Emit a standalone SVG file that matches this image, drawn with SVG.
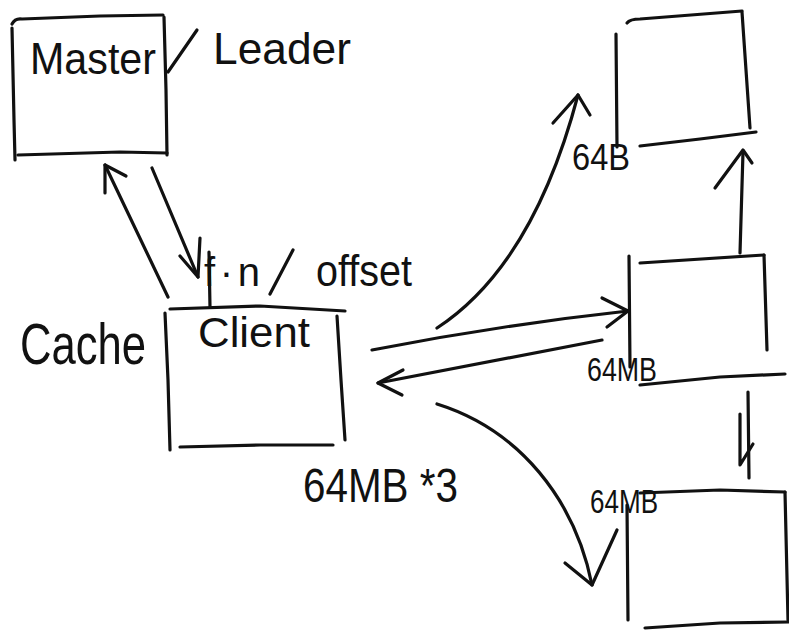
<svg xmlns="http://www.w3.org/2000/svg" width="789" height="630" viewBox="0 0 789 630">
<style>
.s{fill:none;stroke:#111;stroke-width:3.2;stroke-linecap:round;stroke-linejoin:round}
.t{font-family:"Liberation Sans",Arial,sans-serif;fill:#111}
</style>
<rect width="789" height="630" fill="#fff"/>
<g id="master">
<path class="s" d="M12,24 Q15,18 22,19 L100,16 L163,15"/>
<path class="s" d="M12,28 L14,120 L15,160"/>
<path class="s" d="M18,155 L120,152 L167,153"/>
<path class="s" d="M164,17 L166,90 L167,155"/>
<text class="t" x="30" y="74" font-size="44" textLength="126" lengthAdjust="spacingAndGlyphs">Master</text>
<path class="s" d="M168,72 L197,30"/>
<text class="t" x="213" y="64" font-size="44" textLength="138" lengthAdjust="spacingAndGlyphs">Leader</text>
</g>
<g id="client">
<path class="s" d="M170,309 L260,306 L345,311"/>
<path class="s" d="M165,313 L168,380 L170,450"/>
<path class="s" d="M337,316 L341,380 L345,440"/>
<path class="s" d="M180,447 L260,445 L333,445"/>
<text class="t" x="198" y="347" font-size="42" textLength="112" lengthAdjust="spacingAndGlyphs">Client</text>
<text class="t" x="20" y="364" font-size="58" textLength="126" lengthAdjust="spacingAndGlyphs">Cache</text>
<text class="t" x="303" y="502" font-size="48" textLength="155" lengthAdjust="spacingAndGlyphs">64MB *3</text>
</g>
<g id="chunk1">
<path class="s" d="M616,34 L617,147"/>
<path class="s" d="M627,23 Q630,19 640,19 L742,11"/>
<path class="s" d="M742,12 L746,70 L750,128"/>
<path class="s" d="M640,146 L700,139 L756,132"/>
</g>
<g id="chunk2">
<path class="s" d="M629,256 L630,367"/>
<path class="s" d="M640,263 L764,255"/>
<path class="s" d="M764,255 L767,350"/>
<path class="s" d="M640,385 L720,377 L785,374"/>
<text class="t" x="587" y="381" font-size="34" textLength="70" lengthAdjust="spacingAndGlyphs">64MB</text>
</g>
<g id="chunk3">
<path class="s" d="M627,505 L628,620"/>
<path class="s" d="M640,493 L720,490 L785,492"/>
<path class="s" d="M785,492 L788,620"/>
<path class="s" d="M645,628 L720,623 L789,622"/>
<text class="t" x="590" y="513" font-size="34" textLength="68" lengthAdjust="spacingAndGlyphs">64MB</text>
</g>
<g id="connectors">
<path class="s" d="M168,297 L105,165"/>
<path class="s" d="M105,193 L105,165 L126,176"/>
<path class="s" d="M152,168 L198,277"/>
<path class="s" d="M180,256 L198,277 L200,238"/>
<path class="s" d="M209,252 L210,307"/>
<path class="s" d="M437,328 C495,290 545,220 578,95"/>
<path class="s" d="M553,123 L578,95 L590,115"/>
<path class="s" d="M372,350 Q500,325 628,311"/>
<path class="s" d="M602,298 L628,311 L607,327"/>
<path class="s" d="M602,340 Q490,362 378,383"/>
<path class="s" d="M403,370 L378,383 L402,395"/>
<path class="s" d="M437,404 C520,430 575,500 592,585"/>
<path class="s" d="M565,563 L592,585 L617,530"/>
<path class="s" d="M740,253 L743,152"/>
<path class="s" d="M715,188 L743,150 L752,163"/>
<path class="s" d="M748,392 L749,478"/>
<path class="s" d="M740,414 L740,465 L753,444"/>
</g>
<g id="labels">
<text class="t" x="204" y="286" font-size="40" textLength="56" lengthAdjust="spacing">f·n</text>
<path class="s" d="M270,294 L293,250"/>
<text class="t" x="316" y="286" font-size="44" textLength="96" lengthAdjust="spacingAndGlyphs">offset</text>
<text class="t" x="572" y="170" font-size="36" textLength="58" lengthAdjust="spacingAndGlyphs">64B</text>
</g>
</svg>
